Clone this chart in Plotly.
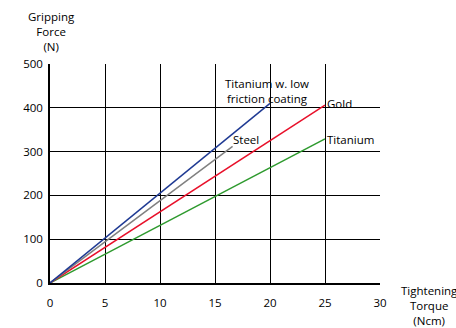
import plotly.graph_objects as go

torque_low = [0, 20]
force_low = [0, 410]
torque_steel = [0, 16.6]
force_steel = [0, 312]
torque_gold = [0, 25]
force_gold = [0, 406]
torque_ti = [0, 25]
force_ti = [0, 329]

x_ticks = [0, 5, 10, 15, 20, 25, 30]
y_ticks = [0, 100, 200, 300, 400, 500]

FONT = "Open Sans"
FS = 11.5

# plot area geometry in pixels (for paper-referenced labels)
L, R, T, B = 50, 380, 64, 283


def px(xp):
    return (xp - L) / (R - L)


def py(yp):
    return (B - yp) / (B - T)


fig = go.Figure()
fig.add_trace(go.Scatter(x=torque_ti, y=force_ti, mode="lines", line=dict(color="#2e9a2e", width=1.5)))
fig.add_trace(go.Scatter(x=torque_gold, y=force_gold, mode="lines", line=dict(color="#e8102a", width=1.5)))
fig.add_trace(go.Scatter(x=torque_steel, y=force_steel, mode="lines", line=dict(color="#808080", width=1.5)))
fig.add_trace(go.Scatter(x=torque_low, y=force_low, mode="lines", line=dict(color="#1f3a93", width=1.5)))


def label(text, x, y, xanchor="center", yanchor="middle", paper=False):
    kw = dict(xref="paper", yref="paper") if paper else {}
    fig.add_annotation(x=x, y=y, text=text, showarrow=False, xanchor=xanchor, yanchor=yanchor,
                       font=dict(family=FONT, size=FS, color="black"), **kw)


label("Titanium w. low<br>friction coating", px(267), py(91), paper=True)
label("Gold", 25.0, 409, xanchor="left")
label("Steel", 16.45, 327, xanchor="left")
label("Titanium", 25.0, 328, xanchor="left")

label("Gripping<br>Force<br>(N)", px(51), py(31), paper=True)
label("Tightening<br>Torque<br>(Ncm)", px(429), py(305), paper=True)

fig.update_layout(
    width=456, height=328,
    margin=dict(l=L, r=456 - R, t=T, b=328 - B, autoexpand=False),
    paper_bgcolor="white", plot_bgcolor="white",
    showlegend=False,
    font=dict(family=FONT, size=11.5, color="black"),
    xaxis=dict(range=[0, 30], tickvals=x_ticks, showgrid=True, gridcolor="black", gridwidth=1,
               zeroline=False, showline=True, linecolor="black", linewidth=1.5, ticks="",
               ticklabelstandoff=8, fixedrange=True),
    yaxis=dict(range=[0, 500], tickvals=y_ticks, showgrid=True, gridcolor="black", gridwidth=1,
               zeroline=False, showline=True, linecolor="black", linewidth=1.5, ticks="",
               ticklabelstandoff=3, fixedrange=True),
)
fig.write_html("out.html", config={"displayModeBar": False},
               post_script="document.body.style.margin='0';")
